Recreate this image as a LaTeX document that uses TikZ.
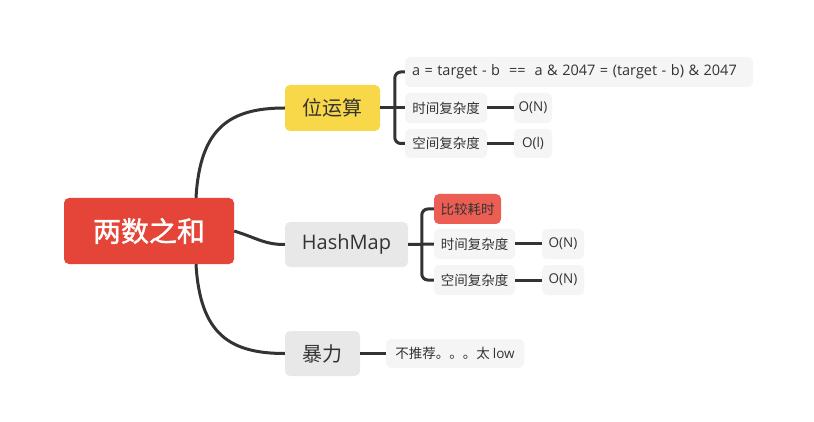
\documentclass[tikz,border=0pt]{standalone}
\usepackage{fontspec}
\setmainfont{Noto Sans CJK SC}
\newfontfamily\latin{Open Sans}
\newfontfamily\rootfont[FakeBold=1.2]{Noto Sans CJK SC}
\begin{document}
\begin{tikzpicture}[x=1pt,y=-1pt,
  conn/.style={draw=black!80, line width=3pt},
  box/.style={rounded corners=5pt, inner sep=0pt, align=center, text=black!80},
  rootbox/.style={box, fill=rootred, text=white, font=\rootfont\fontsize{28}{30}\selectfont},
  mainbox/.style={box, fill=black!9, font=\fontsize{20}{22}\selectfont},
  subbox/.style={box, fill=black!4, font=\fontsize{13.5}{15}\selectfont},
]
\definecolor{rootred}{RGB}{229,69,56}
\definecolor{topyellow}{RGB}{248,216,72}
\definecolor{notered}{RGB}{236,94,84}
\useasboundingbox[fill=white] (0,0) rectangle (814,422);

\node[rootbox, minimum width=170pt, minimum height=66pt] (root) at (149,231) {两数之和};
\node[mainbox, fill=topyellow, minimum width=95pt, minimum height=46pt] (bit) at (332.5,108) {位运算};
\node[mainbox, minimum width=123pt, minimum height=45pt] (hash) at (346.5,244.5) {\latin HashMap};
\node[mainbox, minimum width=75pt, minimum height=45pt] (brute) at (322.5,353.5) {暴力};

\node[subbox, minimum width=348pt, minimum height=30pt, text width=334pt, inner xsep=7pt, align=left] (formula) at (579,72) {\latin\fontsize{14.5}{15}\selectfont a = target - b~~==~~a \& 2047 = (target - b) \& 2047};
\node[subbox, minimum width=82pt, minimum height=30pt] (time1) at (446,108) {时间复杂度};
\node[subbox, minimum width=38pt, minimum height=30pt] (on1) at (533,108) {\latin O(N)};
\node[subbox, minimum width=82pt, minimum height=29pt] (space1) at (446,143.5) {空间复杂度};
\node[subbox, minimum width=38pt, minimum height=29pt] (ol1) at (533,143.5) {\latin O(l)};

\node[subbox, fill=notered, minimum width=67pt, minimum height=30pt] (slow) at (467.5,209) {比较耗时};
\node[subbox, minimum width=81pt, minimum height=30pt] (time2) at (474.5,244) {时间复杂度};
\node[subbox, minimum width=42pt, minimum height=30pt] (on2) at (563,244) {\latin O(N)};
\node[subbox, minimum width=81pt, minimum height=30pt] (space2) at (474.5,280) {空间复杂度};
\node[subbox, minimum width=42pt, minimum height=30pt] (on3) at (563,280) {\latin O(N)};

\node[subbox, minimum width=138pt, minimum height=29pt] (notrec) at (455,353.5) {不推荐。。。太 {\latin low}};

% root connectors
\draw[conn] ([xshift=47pt]root.north) .. controls +(4,-70) and +(-55,0) .. (bit.west);
\draw[conn] (root.east) .. controls +(25,8) and +(-20,0) .. (hash.west);
\draw[conn] ([xshift=47pt]root.south) .. controls +(4,70) and +(-55,0) .. (brute.west);

% bit brackets
\draw[conn, rounded corners=6pt] (formula.west) -- ++(-10,0) |- (space1.west);
\draw[conn] (bit.east) -- (time1.west);
\draw[conn] (time1.east) -- (on1.west);
\draw[conn] (space1.east) -- (ol1.west);

% hash brackets
\draw[conn, rounded corners=6pt] (slow.west) -- ++(-12,0) |- (space2.west);
\draw[conn] (hash.east) -- (time2.west);
\draw[conn] (time2.east) -- (on2.west);
\draw[conn] (space2.east) -- (on3.west);

% brute
\draw[conn] (brute.east) -- (notrec.west);
\end{tikzpicture}
\end{document}
